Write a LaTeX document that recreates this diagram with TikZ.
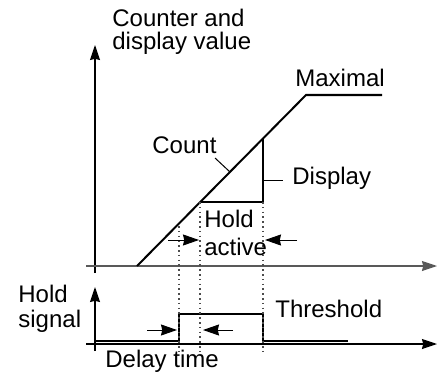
\documentclass[tikz,border=0pt]{standalone}
\usepackage{fontspec}
\setmainfont{Liberation Sans}
\usetikzlibrary{arrows.meta}

\begin{document}
\begin{tikzpicture}[x=0.5pt,y=-0.5pt]
	\tikzstyle{every node}=[font=\fontsize{12}{14}\selectfont,inner sep=0pt]
	\tikzstyle{axis}=[line width=0.6pt,-{Stealth[length=7.5pt,width=5pt,inset=0.6pt]}]
	\tikzstyle{curve}=[line width=1pt]
	\tikzstyle{guide}=[gray!60!black,line width=0.6pt,dash pattern=on 0.8pt off 1.6pt]
	\tikzstyle{pointer}=[line width=0.5pt,-{Stealth[length=8pt,width=5.5pt,inset=0.6pt]}]
	\useasboundingbox (0,0) rectangle (438,374);

	% upper plot: counter and display value
	\coordinate (ya0) at (95,273);
	\coordinate (ya1) at (95,45);
	\coordinate (xa0) at (86,266);
	\coordinate (xa1) at (437,266);
	\draw[axis] (ya0) -- (ya1);
	\draw[axis,gray!70!black] (xa0) -- (xa1);

	\coordinate (start) at (137,266);
	\coordinate (top) at (306,95);
	\coordinate (topend) at (382,95);
	\coordinate (holdA) at (200,202);
	\coordinate (holdB) at (263,202);
	\coordinate (jump) at (263,138.5);
	\draw[curve] (start) -- (top) -- (topend);
	\draw[curve] (holdA) -- (holdB) -- (jump);

	% lower plot: hold signal
	\coordinate (yb0) at (95,351);
	\coordinate (yb1) at (95,287);
	\coordinate (xb0) at (86,344);
	\coordinate (xb1) at (437,344);
	\draw[axis] (yb0) -- (yb1);
	\draw[axis] (xb0) -- (xb1);

	\coordinate (s0) at (95,341);
	\coordinate (s1) at (179,341);
	\coordinate (s2) at (179,314);
	\coordinate (s3) at (263,314);
	\coordinate (s4) at (263,341);
	\coordinate (s5) at (348,341);
	\draw[curve] (s0) -- (s1) -- (s2) -- (s3) -- (s4) -- (s5);

	% dotted guides
	\coordinate (g1t) at (179,226);
	\coordinate (g1b) at (179,352);
	\coordinate (g2b) at (200,352);
	\coordinate (g3b) at (263,352);
	\draw[guide] (g1t) -- (g1b);
	\draw[guide] (holdA) -- (g2b);
	\draw[guide] (holdB) -- (g3b);

	% pointers
	\coordinate (p1) at (168,240);
	\coordinate (p1e) at (199,240);
	\coordinate (p2) at (297,240);
	\coordinate (p2e) at (265,240);
	\coordinate (p3) at (147,330);
	\coordinate (p3e) at (177,330);
	\coordinate (p4) at (233,330);
	\coordinate (p4e) at (203,330);
	\draw[pointer] (p1) -- (p1e);
	\draw[pointer] (p2) -- (p2e);
	\draw[pointer] (p3) -- (p3e);
	\draw[pointer] (p4) -- (p4e);

	% labels (base is the last line of a two-line node)
	\node[anchor=base west,align=left,font=\fontsize{12}{11.5}\selectfont] (value) at (112,50) {Counter and\\display value};
	\node[anchor=base west] (maximal) at (295,87) {Maximal};
	\node[anchor=base west] (count) at (152,153) {Count};
	\node[anchor=base west] (display) at (292,184) {Display};
	\node[anchor=base west,align=left] (active) at (204,255) {Hold\\active};
	\node[anchor=base west,align=left,font=\fontsize{12}{12.5}\selectfont] (signal) at (18,327) {Hold\\signal};
	\node[anchor=base west] (threshold) at (275,317) {Threshold};
	\node[anchor=base west] (delay) at (105,367) {Delay time};

	\coordinate (cntA) at (215,158);
	\coordinate (cntB) at (230,172);
	\coordinate (dspA) at (263,180);
	\coordinate (dspB) at (283,180);
	\draw[line width=0.5pt] (cntA) -- (cntB);
	\draw[line width=0.5pt] (dspA) -- (dspB);
\end{tikzpicture}
\end{document}
